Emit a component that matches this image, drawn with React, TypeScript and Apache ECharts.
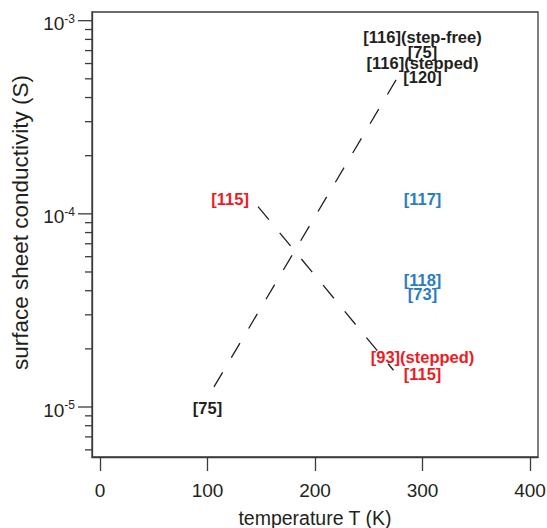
import React, { useEffect, useRef } from "react";
import * as echarts from "echarts";

// ---- data ----
const xTickValues = [0, 100, 200, 300, 400];
const yMajorTicks = [1e-5, 1e-4, 1e-3];
const yMinorTicks = [
  6e-6, 7e-6, 8e-6, 9e-6,
  2e-5, 3e-5, 4e-5, 5e-5, 6e-5, 7e-5, 8e-5, 9e-5,
  2e-4, 3e-4, 4e-4, 5e-4, 6e-4, 7e-4, 8e-4, 9e-4,
];
const xRange = [-7.44, 407.44];
const yRange = [5.51e-6, 1.109e-3];

// dashed fit lines
const line1T = [106, 276];
const line1S = [1.27e-5, 5.0e-4];
const line2T = [147, 273];
const line2S = [1.09e-4, 1.55e-5];

// reference labels
const blackRefNames = ["[116](step-free)", "[75]", "[116](stepped)", "[120]", "[75]"];
const blackRefT = [300, 300, 300, 300, 100];
const blackRefS = [8.3e-4, 7.0e-4, 6.1e-4, 5.15e-4, 1.0e-5];

const redRefNames = ["[115]", "[93](stepped)", "[115]"];
const redRefT = [121, 300, 300];
const redRefS = [1.21e-4, 1.84e-5, 1.5e-5];

const blueRefNames = ["[117]", "[118]", "[73]"];
const blueRefT = [300, 300, 300];
const blueRefS = [1.21e-4, 4.58e-5, 3.91e-5];

const FONT = "'Liberation Sans', Arial, Helvetica, sans-serif";
const AXIS_COLOR = "#3b3b3b";
const TEXT_COLOR = "#231f20";

export default function App() {
  const ref = useRef<HTMLDivElement>(null);

  useEffect(() => {
    if (!ref.current) return;
    const chart = echarts.init(ref.current, null, { renderer: "svg" });

    const refSeries = (names: string[], ts: number[], ss: number[], color: string) => ({
      type: "scatter",
      symbol: "circle",
      symbolSize: 0.1,
      itemStyle: { color: "transparent", opacity: 1 },
      z: 5,
      label: {
        show: true,
        position: "inside",
        offset: [0, 1],
        formatter: "{b}",
        color,
        opacity: 1,
        fontFamily: FONT,
        fontWeight: "bold",
        fontSize: 16.5,
      },
      data: names.map((n, i) => ({ name: n, value: [ts[i], ss[i]] })),
    });

    const yTickData = [
      ...yMajorTicks.map((v) => [xRange[0], v, 1]),
      ...yMinorTicks.map((v) => [xRange[0], v, 0]),
    ];

    chart.setOption({
      animation: false,
      grid: {
        left: 92,
        right: 9,
        top: 12,
        bottom: 71,
        containLabel: false,
        outerBoundsMode: "none",
        show: true,
        borderColor: AXIS_COLOR,
        borderWidth: 1.3,
        backgroundColor: "transparent",
      },
      xAxis: {
        type: "value",
        min: xRange[0],
        max: xRange[1],
        axisLine: { show: true, onZero: false, lineStyle: { color: AXIS_COLOR, width: 1.3 } },
        axisTick: {
          show: true,
          customValues: xTickValues,
          length: 14,
          lineStyle: { color: AXIS_COLOR, width: 1.3 },
        },
        axisLabel: {
          customValues: xTickValues,
          fontSize: 19,
          fontFamily: FONT,
          color: TEXT_COLOR,
          margin: 24,
        },
        splitLine: { show: false },
        name: "temperature T (K)",
        nameLocation: "middle",
        nameGap: 51,
        nameTextStyle: { fontSize: 19.5, lineHeight: 19, fontFamily: FONT, color: TEXT_COLOR },
      },
      yAxis: {
        type: "log",
        logBase: 10,
        min: yRange[0],
        max: yRange[1],
        axisLine: { show: true, onZero: false, lineStyle: { color: AXIS_COLOR, width: 1.3 } },
        axisTick: { show: false },
        axisLabel: {
          showMinLabel: false,
          showMaxLabel: false,
          margin: 17,
          padding: [6, 0, 0, 0],
          color: TEXT_COLOR,
          fontFamily: FONT,
          formatter: (v: number) => {
            const e = Math.round(Math.log10(v));
            return `{b|10}{s|${e}}`;
          },
          rich: {
            b: { fontSize: 19, fontFamily: FONT, color: TEXT_COLOR, lineHeight: 22 },
            s: { fontSize: 12, fontFamily: FONT, color: TEXT_COLOR, verticalAlign: "top", lineHeight: 12 },
          },
        },
        splitLine: { show: false },
        minorTick: { show: false },
        name: "surface sheet conductivity (S)",
        nameLocation: "middle",
        nameGap: 60,
        nameTextStyle: {
          fontSize: 22.5,
          fontFamily: FONT,
          color: TEXT_COLOR,
          padding: [0, 0, 0, 24],
        },
      },
      series: [
        {
          type: "custom",
          clip: false,
          silent: true,
          encode: { x: 0, y: 1 },
          data: yTickData,
          renderItem: (params: any, api: any) => {
            const p = api.coord([api.value(0), api.value(1)]);
            const len = api.value(2) === 1 ? 14 : 7;
            return {
              type: "line",
              shape: { x1: p[0] - len, y1: p[1], x2: p[0], y2: p[1] },
              style: { stroke: AXIS_COLOR, lineWidth: 1.3 },
            };
          },
        },
        {
          type: "line",
          showSymbol: false,
          symbol: "none",
          lineStyle: { color: TEXT_COLOR, width: 1.3, type: [17, 17] },
          data: line1T.map((t, i) => [t, line1S[i]]),
        },
        {
          type: "line",
          showSymbol: false,
          symbol: "none",
          lineStyle: { color: TEXT_COLOR, width: 1.3, type: [17, 17] },
          data: line2T.map((t, i) => [t, line2S[i]]),
        },
        refSeries(blackRefNames, blackRefT, blackRefS, TEXT_COLOR),
        refSeries(redRefNames, redRefT, redRefS, "#ed1c24"),
        refSeries(blueRefNames, blueRefT, blueRefS, "#2b7cc0"),
      ],
    });

    return () => chart.dispose();
  }, []);

  return (
    <div
      ref={ref}
      style={{ position: "fixed", left: 0, top: 0, width: 547, height: 528, background: "#fff" }}
    />
  );
}
